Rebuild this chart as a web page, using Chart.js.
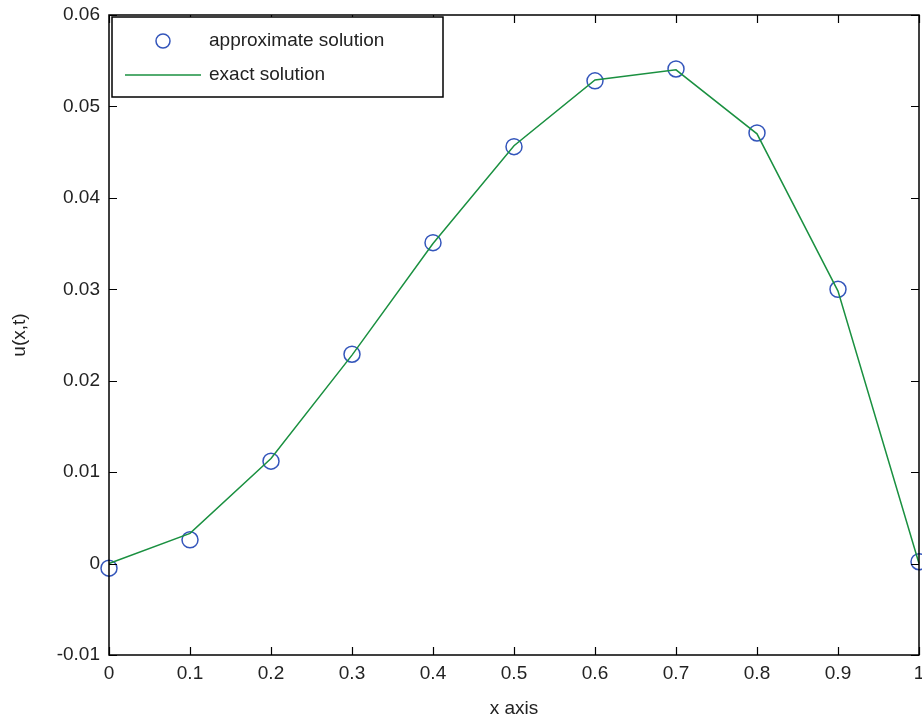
<!DOCTYPE html>
<html>
<head>
<meta charset="utf-8">
<script src="https://cdn.jsdelivr.net/npm/chart.js@4.4.0/dist/chart.umd.min.js"></script>
<style>
  html, body { margin: 0; padding: 0; background: #fff; overflow: hidden; }
  #wrap { width: 922px; height: 720px; }
  canvas { display: block; }
</style>
</head>
<body>
<div id="wrap"><canvas id="myChart" width="922" height="720"></canvas></div>
<script>
// values
const xs = [0, 0.1, 0.2, 0.3, 0.4, 0.5, 0.6, 0.7, 0.8, 0.9, 1.0];
const approx = [-0.0005, 0.0026, 0.0112, 0.0229, 0.0351, 0.0456, 0.0528, 0.0541, 0.0471, 0.0300, 0.0002];
const exact = [0.0000, 0.0033, 0.0115, 0.0228, 0.0350, 0.0457, 0.0529, 0.0540, 0.0470, 0.0298, 0.0000];
const xTicks = [0, 0.1, 0.2, 0.3, 0.4, 0.5, 0.6, 0.7, 0.8, 0.9, 1];
const yTicks = [-0.01, 0, 0.01, 0.02, 0.03, 0.04, 0.05, 0.06];

const blue = '#3355bb';
const green = '#1a9040';
const font = "'Liberation Sans', Arial, sans-serif";

function fmt(v) {
    let s = (Math.round(v * 1000) / 1000).toString();
    return s;
}

// no extra room for the end labels, the axes should sit at fixed places
const noPad = () => ({ left: 0, right: 0, top: 0, bottom: 0 });

// box around the plot with inward ticks, like matlab
const boxPlugin = {
    id: 'box',
    afterDatasetsDraw(chart) {
        const ctx = chart.ctx;
        const a = chart.chartArea;
        const sx = chart.scales.x, sy = chart.scales.y;
        const len = 8;
        ctx.save();
        ctx.strokeStyle = '#000';
        ctx.lineWidth = 1.5;
        ctx.strokeRect(a.left, a.top, a.right - a.left, a.bottom - a.top);
        ctx.lineWidth = 1.2;
        ctx.beginPath();
        xTicks.forEach(v => {
            const px = Math.round(sx.getPixelForValue(v)) + 0.5;
            ctx.moveTo(px, a.bottom); ctx.lineTo(px, a.bottom - len);
            ctx.moveTo(px, a.top); ctx.lineTo(px, a.top + len);
        });
        yTicks.forEach(v => {
            const py = Math.round(sy.getPixelForValue(v)) + 0.5;
            ctx.moveTo(a.left, py); ctx.lineTo(a.left + len, py);
            ctx.moveTo(a.right, py); ctx.lineTo(a.right - len, py);
        });
        ctx.stroke();

        // legend box in the top left corner
        const lx = a.left + 3, ly = a.top + 2, lw = 331, lh = 80;
        ctx.fillStyle = '#fff';
        ctx.fillRect(lx, ly, lw, lh);
        ctx.lineWidth = 1.5;
        ctx.strokeRect(lx, ly, lw, lh);
        ctx.font = '19px ' + font;
        ctx.fillStyle = '#222';
        ctx.textBaseline = 'middle';
        const ds = chart.data.datasets;
        // approximate
        ctx.strokeStyle = blue;
        ctx.lineWidth = 1.5;
        ctx.beginPath();
        ctx.arc(lx + 51, ly + 24, 7, 0, Math.PI * 2);
        ctx.stroke();
        ctx.fillText(ds[0].label, lx + 97, ly + 24);
        // exact
        ctx.strokeStyle = green;
        ctx.beginPath();
        ctx.moveTo(lx + 13, ly + 58); ctx.lineTo(lx + 89, ly + 58);
        ctx.stroke();
        ctx.fillText(ds[1].label, lx + 97, ly + 58);
        ctx.restore();
    }
};

let ctx = document.getElementById("myChart").getContext('2d');
let myChart = new Chart(ctx, {
    type: 'scatter',
    data: {
        datasets: [{
            label: 'approximate solution',
            data: xs.map((x, i) => ({x: x, y: approx[i]})),
            showLine: false,
            pointStyle: 'circle',
            pointRadius: 8,
            pointBorderWidth: 1.5,
            pointBorderColor: blue,
            pointBackgroundColor: 'rgba(0,0,0,0)',
            clip: false,
            order: 2
        }, {
            label: 'exact solution',
            data: xs.map((x, i) => ({x: x, y: exact[i]})),
            showLine: true,
            borderColor: green,
            borderWidth: 1.5,
            pointRadius: 0,
            tension: 0,
            clip: false,
            order: 1
        }]
    },
    options: {
        responsive: false,
        animation: false,
        layout: {
            autoPadding: false,
            padding: { left: 0, right: 3, top: 15, bottom: 0 }
        },
        plugins: {
            legend: { display: false },
            tooltip: { enabled: false }
        },
        scales: {
            x: {
                type: 'linear',
                min: 0,
                max: 1,
                afterBuildTicks: s => { s.ticks = xTicks.map(v => ({value: v})); },
                afterFit: s => { s.height = 65; s.paddingRight = 0; s.paddingLeft = 0; s.getPadding = noPad; },
                grid: { display: false, drawTicks: false },
                border: { display: false },
                ticks: {
                    color: '#222',
                    padding: 7,
                    font: { family: font, size: 19 },
                    callback: v => fmt(v)
                },
                title: {
                    display: true,
                    text: 'x axis',
                    color: '#222',
                    padding: { top: 6, bottom: 0 },
                    font: { family: font, size: 19 }
                }
            },
            y: {
                type: 'linear',
                min: -0.01,
                max: 0.06,
                afterBuildTicks: s => { s.ticks = yTicks.map(v => ({value: v})); },
                afterFit: s => { s.width = 109; s.paddingTop = 0; s.paddingBottom = 0; s.getPadding = noPad; },
                grid: { display: false, drawTicks: false },
                border: { display: false },
                ticks: {
                    color: '#222',
                    padding: 9,
                    font: { family: font, size: 19 },
                    callback: v => fmt(v)
                },
                title: {
                    display: true,
                    text: 'u(x,t)',
                    color: '#222',
                    padding: { top: 8, bottom: 0 },
                    font: { family: font, size: 19 }
                }
            }
        }
    },
    plugins: [boxPlugin]
});
</script>
</body>
</html>
